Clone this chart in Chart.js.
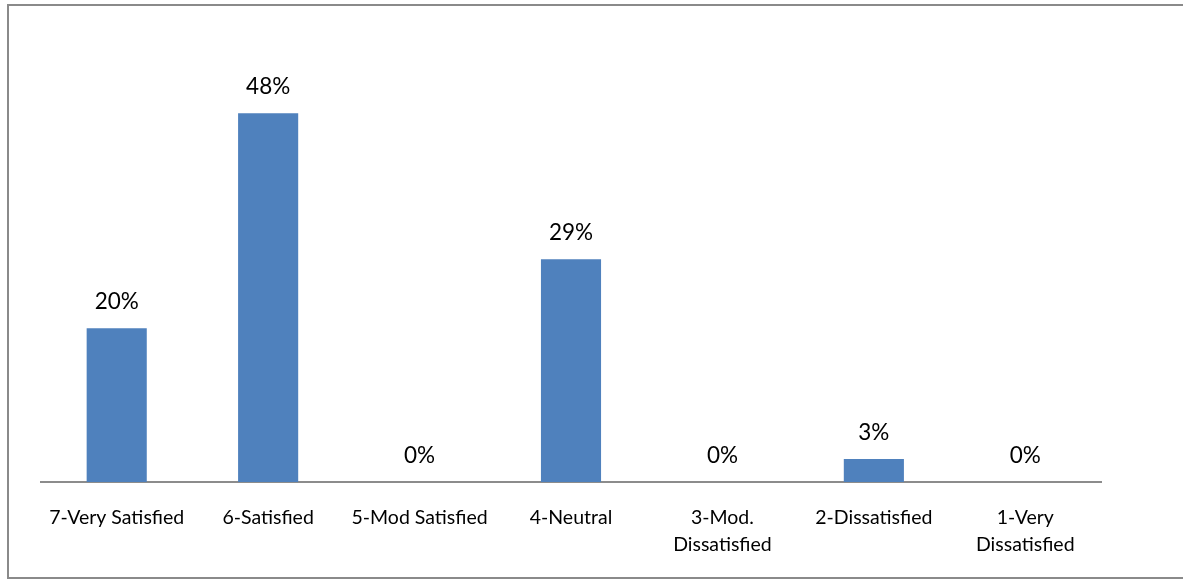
<!DOCTYPE html>
<html>
<head>
<meta charset="utf-8">
<script src="https://cdn.jsdelivr.net/npm/chart.js@4"></script>
<style>
  html, body { margin: 0; padding: 0; background: #fff; }
  #wrap { position: relative; width: 1183px; height: 581px; overflow: hidden; }
  #frame { position: absolute; left: 7px; top: 4px; width: 1200px; height: 571px; border: 2px solid #8a8a8a; box-sizing: content-box; pointer-events: none; }
  canvas { position: absolute; left: 0; top: 0; }
</style>
</head>
<body>
<div id="wrap">
  <canvas id="c" width="1183" height="581"></canvas>
  <div id="frame"></div>
</div>
<script>
const categories = [
  "7-Very Satisfied",
  "6-Satisfied",
  "5-Mod Satisfied",
  "4-Neutral",
  ["3-Mod.", "Dissatisfied"],
  "2-Dissatisfied",
  ["1-Very", "Dissatisfied"]
];
const percentValues = [20, 48, 0, 29, 0, 3, 0];
const valueLabels = ["20%", "48%", "0%", "29%", "0%", "3%", "0%"];

const FONT = "Lato, 'Open Sans', sans-serif";

const dataLabelPlugin = {
  id: "dataLabels",
  afterDatasetsDraw(chart) {
    const ctx = chart.ctx;
    const meta = chart.getDatasetMeta(0);
    ctx.save();
    ctx.font = "22.5px " + FONT;
    ctx.fillStyle = "#000";
    ctx.textAlign = "center";
    ctx.textBaseline = "alphabetic";
    meta.data.forEach((bar, i) => {
      ctx.fillText(valueLabels[i], bar.x, bar.y - 19);
    });
    ctx.restore();
  }
};

new Chart(document.getElementById("c"), {
  type: "bar",
  data: {
    labels: categories,
    datasets: [{
      data: percentValues,
      backgroundColor: "#4F81BD",
      borderWidth: 0,
      categoryPercentage: 1,
      barPercentage: 0.397
    }]
  },
  options: {
    responsive: false,
    animation: false,
    devicePixelRatio: 1,
    layout: { padding: { left: 41, right: 82, top: 21, bottom: 0 } },
    plugins: { legend: { display: false }, tooltip: { enabled: false } },
    scales: {
      y: { display: false, min: 0, max: 60 },
      x: {
        grid: { display: false, drawTicks: false },
        border: { display: true, color: "#8c8c8c", width: 2 },
        ticks: {
          color: "#000",
          font: { family: FONT, size: 19.5, lineHeight: 1.38 },
          maxRotation: 0,
          minRotation: 0,
          autoSkip: false,
          padding: 22
        },
        afterFit(scale) { scale.height = 99; }
      }
    }
  },
  plugins: [dataLabelPlugin]
});
</script>
</body>
</html>
